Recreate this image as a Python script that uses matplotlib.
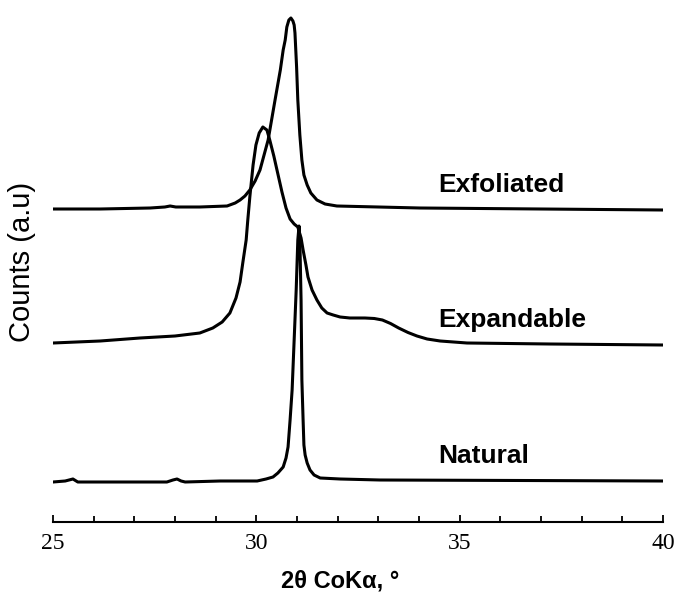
import matplotlib.pyplot as plt
from matplotlib.ticker import MultipleLocator

# 2θ (CoKα) positions and intensities (a.u., already offset)
nat_2theta = [25.00, 25.30, 25.49, 25.61, 26.65, 27.80, 27.95, 28.05, 28.15, 28.25,
              29.11, 30.02, 30.24, 30.41, 30.53, 30.66, 30.73, 30.78, 30.83, 30.88,
              30.93, 30.98, 31.02, 31.05, 31.07, 31.10, 31.12, 31.15, 31.17, 31.20,
              31.25, 31.32, 31.42, 31.57, 32.06, 33.04, 40.00]
nat_counts = [40, 41, 43, 40, 40, 40, 42, 43, 41, 40,
              41, 41, 43, 45, 49, 55, 64, 75, 102, 132,
              182, 232, 282, 296, 282, 222, 142, 102, 77, 67,
              59, 52, 47, 44, 43, 42, 41]

exp_2theta = [25.00, 26.16, 27.14, 28.00, 28.61, 28.93, 29.16, 29.35, 29.50, 29.60,
              29.67, 29.75, 29.79, 29.84, 29.92, 29.99, 30.07, 30.16, 30.26, 30.33,
              30.43, 30.53, 30.63, 30.73, 30.83, 30.93, 31.02, 31.10, 31.15, 31.22,
              31.27, 31.37, 31.49, 31.61, 31.74, 31.89, 32.06, 32.30, 32.67, 32.90,
              33.10, 33.30, 33.50, 33.73, 33.95, 34.20, 34.52, 35.18, 37.22, 40.00]
exp_counts = [179, 181, 184, 186, 189, 194, 200, 209, 224, 240,
              260, 282, 302, 325, 357, 377, 389, 395, 392, 382,
              366, 348, 330, 314, 303, 298, 295, 284, 272, 257,
              245, 232, 222, 214, 209, 207, 205, 204, 204, 203.5,
              202, 198.5, 194, 189.5, 186, 183, 181, 179, 178, 177]

exf_2theta = [25.00, 26.16, 27.39, 27.75, 27.88, 28.02, 28.61, 29.28, 29.48, 29.60,
              29.72, 29.84, 29.97, 30.09, 30.19, 30.29, 30.46, 30.59, 30.66, 30.71,
              30.75, 30.80, 30.85, 30.90, 30.93, 30.95, 30.99, 31.02, 31.07, 31.12,
              31.17, 31.25, 31.34, 31.49, 31.69, 31.98, 34.02, 40.00]
exf_counts = [313, 313, 314, 315, 316, 315, 315, 316, 319, 322,
              326, 332, 341, 352, 367, 382, 422, 452, 472, 482,
              495, 502, 504, 501, 497, 489, 455, 422, 387, 362,
              347, 337, 329, 322, 318, 316, 314, 312]

labels = ["Natural", "Expandable", "Exfoliated"]
label_y = [59, 195, 330]

fig = plt.figure(figsize=(6.79, 5.96), dpi=100)
ax = fig.add_axes([53 / 679, 74 / 596, 610 / 679, 522 / 596])

for xs, ys in [(nat_2theta, nat_counts), (exp_2theta, exp_counts), (exf_2theta, exf_counts)]:
    ax.plot(xs, ys, color='black', linewidth=2.2, solid_joinstyle='round')

for name, yy in zip(labels, label_y):
    ax.text(34.47, yy, name, fontsize=19, fontweight='bold',
            family='Liberation Sans', ha='left', va='baseline')

ax.set_xlim(25, 40)
ax.set_ylim(0, 522)
for s in ['left', 'top', 'right']:
    ax.spines[s].set_visible(False)
ax.spines['bottom'].set_linewidth(1.5)
ax.set_yticks([])

ax.xaxis.set_major_locator(MultipleLocator(5))
ax.xaxis.set_minor_locator(MultipleLocator(1))
ax.tick_params(axis='x', which='both', direction='in', width=1.3)
ax.tick_params(axis='x', which='major', length=5, pad=8)
ax.tick_params(axis='x', which='minor', length=4)
for lab in ax.get_xticklabels():
    lab.set_family('Liberation Serif')
    lab.set_fontsize(17)

fig.text(340 / 679, 1 - 581 / 596, "2θ CoKα, °", fontsize=17, fontweight='bold',
         family='Liberation Sans', ha='center', va='center')
fig.text(22 / 679, 1 - 262 / 596, "Counts (a.u)", rotation=90, fontsize=21,
         family='Liberation Sans', ha='center', va='center')

plt.savefig("out.png", dpi=100)
